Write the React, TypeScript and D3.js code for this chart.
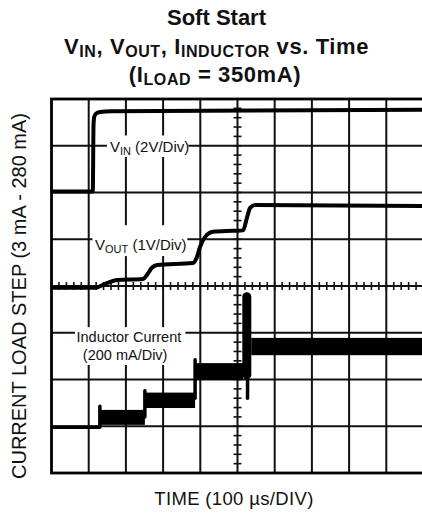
import React, { useEffect } from 'react';
import * as d3 from 'd3';

const W = 422;
const H = 516;

// Screen divisions: x = time divisions (0-10), y = vertical divisions from bottom (0-8)
const timeDivs = 10;
const levelDivs = 8;

// V_IN trace (2V/Div)
const vinTime = [0, 1.11, 1.13, 1.15, 1.2, 1.3, 1.6, 10];
const vinLevel = [6.02, 6.02, 7.45, 7.62, 7.69, 7.72, 7.74, 7.77];

// V_OUT trace (1V/Div)
const voutTime = [0, 1.17, 1.32, 1.49, 1.76, 2.46, 2.57, 2.7, 2.84, 3.8, 3.91, 3.99, 4.13, 4.34, 4.88, 5.15, 5.26, 5.34, 5.47, 10];
const voutLevel = [3.96, 3.96, 4.0, 4.06, 4.13, 4.15, 4.24, 4.39, 4.45, 4.49, 4.62, 4.83, 5.05, 5.16, 5.18, 5.19, 5.48, 5.67, 5.73, 5.71];

// Inductor current (200 mA/Div): baseline, then four switching-ripple bands
const currBaseTime = [0, 1.3];
const currBaseLevel = [0.98, 0.98];
const stepStart = [1.3, 2.51, 3.86, 5.37];
const stepEnd = [2.51, 3.86, 5.15, 10];
const stepLow = [1.03, 1.39, 1.99, 2.52];
const stepHigh = [1.35, 1.72, 2.35, 2.89];

// rising edges at each step (last one is the big overshoot spike)
const edgeTime = [1.3, 2.51, 3.86, 5.25];
const edgeFrom = [0.98, 1.2, 1.6, 2.1];
const edgeTo = [1.43, 1.76, 2.42, 3.77];
const edgeWidth = [3.5, 3.5, 3.5, 9];
// undershoot tail after the spike
const tailTime = [5.27, 5.27];
const tailLevel = [2.1, 1.6];

const App: React.FC = () => {
  useEffect(() => {
    document.body.style.margin = '0';
  }, []);

  const x = d3.scaleLinear().domain([0, timeDivs]).range([51.5, 423.5]);
  const y = d3.scaleLinear().domain([0, levelDivs]).range([473, 99]);

  const line = d3
    .line<[number, number]>()
    .x((d) => x(d[0]))
    .y((d) => y(d[1]))
    .curve(d3.curveMonotoneX);

  const vinPts = vinTime.map((t, i) => [t, vinLevel[i]] as [number, number]);
  const voutPts = voutTime.map((t, i) => [t, voutLevel[i]] as [number, number]);
  const basePts = currBaseTime.map((t, i) => [t, currBaseLevel[i]] as [number, number]);

  const vLines = d3.range(1, timeDivs);
  const hLines = d3.range(1, levelDivs);
  const hTicks = d3.range(0, timeDivs * 5 + 1).map((i) => i / 5);
  const vTicks = d3.range(0, levelDivs * 5 + 1).map((i) => i / 5);

  const font = 'Liberation Sans, Arial, Helvetica, sans-serif';
  const grid = '#111';

  return (
    <svg width={W} height={H} style={{ display: 'block', background: '#fff' }} fontFamily={font}>
      {/* title */}
      <text x={216.5} y={25} textAnchor="middle" fontSize={22} fontWeight="bold" fill="#111">
        Soft Start
      </text>
      <text x={216.5} y={54} textAnchor="middle" fontSize={22} fontWeight="bold" fill="#111" letterSpacing={0.6}>
        V<tspan fontSize={16} dy={3}>IN</tspan>
        <tspan dy={-3}>, V</tspan>
        <tspan fontSize={16} dy={3}>OUT</tspan>
        <tspan dy={-3}>, I</tspan>
        <tspan fontSize={16} dy={3}>INDUCTOR</tspan>
        <tspan dy={-3}> vs. Time</tspan>
      </text>
      <text x={215} y={82} textAnchor="middle" fontSize={22} fontWeight="bold" fill="#111" letterSpacing={0.6}>
        (I<tspan fontSize={16} dy={3}>LOAD</tspan>
        <tspan dy={-3}> = 350mA)</tspan>
      </text>

      {/* grid */}
      <g stroke={grid} strokeWidth={2}>
        {vLines.map((t) => (
          <line key={'v' + t} x1={x(t)} x2={x(t)} y1={y(levelDivs)} y2={y(0)} />
        ))}
        {hLines.map((v) => (
          <line key={'h' + v} x1={x(0)} x2={x(timeDivs)} y1={y(v)} y2={y(v)} />
        ))}
      </g>
      {/* minor ticks on the center axes */}
      <g stroke={grid} strokeWidth={1.6}>
        {hTicks.map((t) => (
          <line key={'ht' + t} x1={x(t)} x2={x(t)} y1={y(levelDivs / 2) - 4} y2={y(levelDivs / 2) + 4} />
        ))}
        {vTicks.map((v) => (
          <line key={'vt' + v} x1={x(timeDivs / 2) - 4} x2={x(timeDivs / 2) + 4} y1={y(v)} y2={y(v)} />
        ))}
      </g>

      {/* label backgrounds */}
      <g fill="#fff">
        <rect x={x(1.49)} y={y(7.22)} width={x(3.68) - x(1.49)} height={y(6.76) - y(7.22)} />
        <rect x={x(1.1)} y={y(5.3)} width={x(3.65) - x(1.1)} height={y(4.64) - y(5.3)} />
        <rect x={x(0.63)} y={y(3.12)} width={x(3.6) - x(0.63)} height={y(2.31) - y(3.12)} />
      </g>
      <g fill="#111" fontSize={15}>
        <text x={x(1.57)} y={y(6.87)}>
          V<tspan fontSize={11} dy={3}>IN</tspan>
          <tspan dy={-3}> (2V/Div)</tspan>
        </text>
        <text x={x(1.17)} y={y(4.77)}>
          V<tspan fontSize={11} dy={3}>OUT</tspan>
          <tspan dy={-3}> (1V/Div)</tspan>
        </text>
        <text x={x(2.08)} y={y(2.8)} textAnchor="middle" fontSize={14.5}>
          Inductor Current
        </text>
        <text x={x(1.98)} y={y(2.42)} textAnchor="middle" fontSize={14.5}>
          (200 mA/Div)
        </text>
      </g>

      {/* traces */}
      <g fill="none" stroke="#000" strokeLinejoin="round">
        <path d={line(vinPts) || ''} strokeWidth={4} />
        <path d={line(voutPts) || ''} strokeWidth={4} />
        <path d={line(basePts) || ''} strokeWidth={3.5} />
        {edgeTime.map((t, i) => (
          <line
            key={'e' + i}
            x1={x(t)}
            x2={x(t)}
            y1={y(edgeFrom[i])}
            y2={y(edgeTo[i])}
            strokeWidth={edgeWidth[i]}
            strokeLinecap="round"
          />
        ))}
        <line
          x1={x(tailTime[0])}
          x2={x(tailTime[1])}
          y1={y(tailLevel[0])}
          y2={y(tailLevel[1])}
          strokeWidth={3.5}
          strokeLinecap="round"
        />
      </g>
      <g fill="#000">
        {stepStart.map((s, i) => (
          <rect
            key={'s' + i}
            x={x(s)}
            y={y(stepHigh[i])}
            width={x(stepEnd[i]) - x(s)}
            height={y(stepLow[i]) - y(stepHigh[i])}
          />
        ))}
      </g>

      {/* frame */}
      <rect
        x={x(0)}
        y={y(levelDivs)}
        width={x(timeDivs) - x(0)}
        height={y(0) - y(levelDivs)}
        fill="none"
        stroke="#000"
        strokeWidth={2.8}
      />

      {/* axis titles */}
      <text
        transform={`translate(26,${y(levelDivs / 2) + 10}) rotate(-90)`}
        textAnchor="middle"
        fontSize={20}
        fill="#111"
      >
        CURRENT LOAD STEP (3 mA - 280 mA)
      </text>
      <text x={234} y={505} textAnchor="middle" fontSize={18.5} fill="#111" letterSpacing={0.35}>
        TIME (100 µs/DIV)
      </text>
    </svg>
  );
};

export default App;
